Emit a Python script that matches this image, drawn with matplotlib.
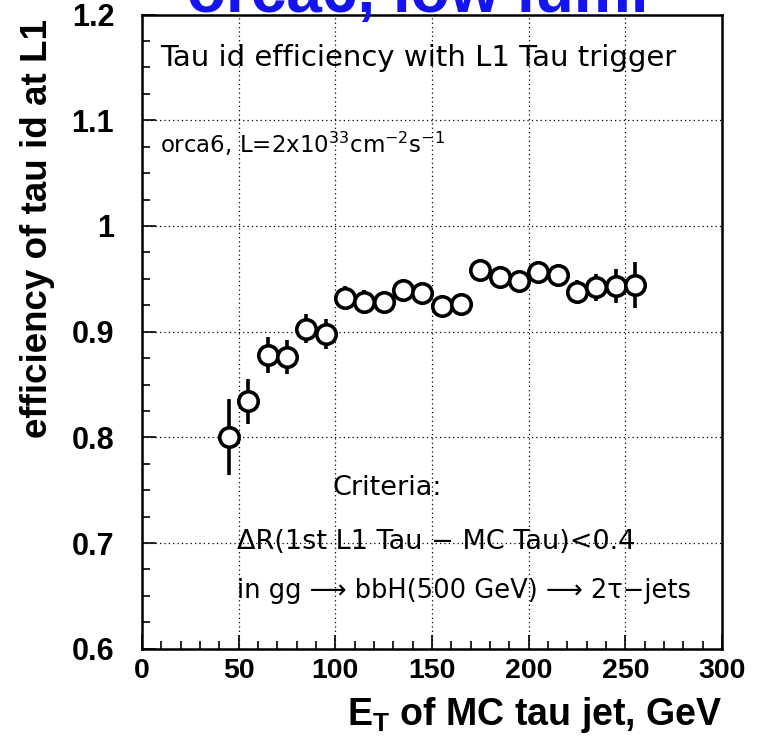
import numpy as np
import matplotlib
matplotlib.use("Agg")
import matplotlib.pyplot as plt
from matplotlib.ticker import MultipleLocator

# efficiency vs E_T (bin centres, GeV)
et = [45, 55, 65, 75, 85, 95, 105, 115, 125, 135, 145,
      155, 165, 175, 185, 195, 205, 215, 225, 235, 245, 255]
eff = [0.800, 0.834, 0.878, 0.876, 0.903, 0.898, 0.932, 0.928, 0.928, 0.939, 0.937,
       0.924, 0.926, 0.958, 0.952, 0.948, 0.956, 0.954, 0.938, 0.942, 0.943, 0.944]
err = [0.036, 0.021, 0.017, 0.016, 0.014, 0.014, 0.011, 0.011, 0.010, 0.010, 0.009,
       0.010, 0.011, 0.007, 0.008, 0.008, 0.008, 0.009, 0.011, 0.013, 0.016, 0.022]

plt.rcParams["mathtext.fontset"] = "custom"
plt.rcParams["mathtext.rm"] = "DejaVu Sans"
plt.rcParams["mathtext.bf"] = "Liberation Sans:bold"

fig = plt.figure(figsize=(7.58, 7.42), dpi=100)
ax = fig.add_axes([0.1873, 0.1257, 0.9525 - 0.1873, 0.9803 - 0.1257])

ax.errorbar(et, eff, yerr=err, fmt="o", color="black", ecolor="black",
            elinewidth=2.6, capsize=0, markersize=14, markerfacecolor="white",
            markeredgecolor="black", markeredgewidth=2.6, zorder=5)

ax.set_xlim(0, 300)
ax.set_ylim(0.6, 1.2)
ax.xaxis.set_major_locator(MultipleLocator(50))
ax.xaxis.set_minor_locator(MultipleLocator(10))
ax.yaxis.set_major_locator(MultipleLocator(0.1))
ax.yaxis.set_minor_locator(MultipleLocator(0.025))
ax.set_yticks([0.6, 0.7, 0.8, 0.9, 1.0, 1.1, 1.2])
ax.set_yticklabels(["0.6", "0.7", "0.8", "0.9", "1", "1.1", "1.2"])
ax.tick_params(which="both", direction="in", top=False, right=False, width=1.2)
ax.tick_params(which="major", length=10)
ax.tick_params(which="minor", length=6)
ax.tick_params(axis="y", pad=20)
ax.tick_params(axis="x", pad=7)
for lab in ax.get_yticklabels():
    lab.set_fontfamily("Liberation Sans")
    lab.set_fontweight("bold")
    lab.set_fontsize(22)
for lab in ax.get_xticklabels():
    lab.set_fontfamily("Liberation Sans")
    lab.set_fontweight("bold")
    lab.set_fontsize(20.5)
for s in ax.spines.values():
    s.set_linewidth(1.8)
ax.grid(True, which="major", linestyle=(0, (1, 2.5)), color="black", linewidth=0.9)

ax.text(9.3, 1.1513, "Tau id efficiency with L1 Tau trigger", fontsize=21,
        family="DejaVu Sans", va="baseline", ha="left")
ax.text(9.3, 1.069, r"orca6, L=2x10$^{33}$cm$^{-2}$s$^{-1}$", fontsize=16.5,
        family="DejaVu Sans", va="baseline", ha="left")
ax.text(98.8, 0.7455, "Criteria:", fontsize=19.5, family="DejaVu Sans",
        va="baseline", ha="left")
ax.text(49, 0.6944, "\u0394R(1st L1 Tau \u2212 MC Tau)<0.4", fontsize=19.5,
        family="DejaVu Sans", va="baseline", ha="left")
ax.text(49, 0.648, "in gg \u27f6 bbH(500 GeV) \u27f6 2\u03c4\u2212jets", fontsize=18.5,
        family="DejaVu Sans", va="baseline", ha="left")

fig.text(0.9525, 1 - 725 / 742, r"$\mathbf{E_T}$ of MC tau jet, GeV", fontsize=27,
         family="Liberation Sans", fontweight="bold", ha="right", va="baseline")
fig.text(38 / 758, 1 - 19 / 742, "efficiency of tau id at L1", fontsize=26.5,
         family="Liberation Sans", fontweight="bold", rotation=90,
         ha="center", va="top")
fig.text(418 / 758, 1 - 12 / 742, "orca6, low lumi", fontsize=46,
         family="Liberation Sans", fontweight="bold", color="#1414f0",
         ha="center", va="baseline")

fig.savefig("out.png", dpi=100, facecolor="white")
